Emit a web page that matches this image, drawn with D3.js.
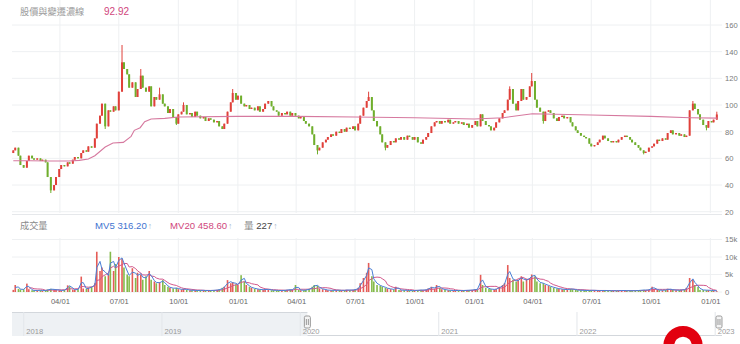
<!DOCTYPE html>
<html>
<head>
<meta charset="utf-8">
<script src="https://cdn.jsdelivr.net/npm/d3@7"></script>
<style>
  html, body { margin: 0; padding: 0; background: #fff; overflow: hidden; }
  svg { display: block; font-family: "Liberation Sans", "Noto Sans CJK TC", sans-serif; }
</style>
</head>
<body>
<svg id="chart" width="740" height="344"></svg>
<script>
// ---- data: one point per three trading sessions, from 2020-01-20 ----
const firstOpen = 64;
const closes = [
  66, 68, 62, 55, 53, 58, 62, 60, 59, 60,
  58, 59, 57, 46, 36, 40, 46, 52, 55, 54,
  57, 56, 59, 61, 60, 64, 66, 65, 69, 68,
  75, 86, 92, 101, 84, 96, 95, 99, 96, 110,
  132, 127, 123, 113, 117, 106, 112, 122, 113, 110,
  114, 99, 106, 104, 108, 101, 99, 94, 97, 91,
  86, 93, 95, 100, 93, 94, 91, 95, 92, 90,
  91, 88, 90, 89, 87, 88, 84, 82, 86, 95,
  102, 109, 104, 107, 101, 99, 100, 97, 98, 96,
  99, 95, 97, 101, 103, 99, 96, 95, 92, 94,
  93, 95, 92, 94, 92, 90, 91, 88, 86, 84,
  78, 70, 66, 68, 72, 74, 76, 78, 77, 80,
  79, 82, 80, 83, 82, 84, 81, 86, 92, 98,
  103, 106, 96, 88, 84, 78, 72, 68, 70, 73,
  72, 75, 74, 76, 74, 77, 76, 74, 76, 72,
  71, 74, 76, 79, 84, 87, 88, 86, 88, 87,
  89, 86, 87, 88, 86, 87, 85, 86, 83, 85,
  88, 84, 93, 88, 85, 84, 81, 83, 87, 90,
  94, 96, 104, 112, 101, 96, 103, 112, 104, 106,
  114, 118, 104, 98, 95, 88, 95, 96, 94, 90,
  88, 91, 92, 90, 91, 87, 84, 81, 79, 77,
  76, 75, 71, 69, 70, 72, 74, 77, 75, 73,
  72, 73, 72, 74, 76, 77, 76, 74, 72, 70,
  68, 66, 64, 65, 68, 69, 71, 74, 73, 75,
  74, 79, 81, 78, 79, 77, 78, 76, 77, 96,
  101, 97, 93, 89, 85, 83, 88, 87, 89, 92.92
];
// intraday extremes beyond the body, keyed by point index
const wickHigh = { 40: 145, 47: 127, 54: 113, 63: 102, 81: 112, 131: 110, 183: 114, 191: 124, 250: 103, 259: 95 };
const wickLow = { 14: 34, 34: 82, 60: 85, 112: 63, 137: 66, 195: 86, 232: 63, 255: 81 };

const volumes = [
  600, 2000, 900, 700, 800, 2400, 800, 500, 400, 450,
  500, 400, 450, 700, 900, 600, 700, 500, 400, 600,
  1900, 1600, 700, 600, 800, 4400, 1000, 900, 1200, 1500,
  2500, 11500, 6000, 7000, 4500, 5000, 11500, 6000, 8000, 10000,
  9500, 7000, 5000, 4500, 6800, 4000, 5500, 5000, 3500, 4500,
  6000, 3500, 3000, 2500, 2800, 3400, 2000, 1500, 1200, 1000,
  1200, 800, 700, 900, 600, 500, 500, 450, 400, 500,
  450, 400, 400, 450, 500, 600, 700, 1200, 1500, 3400,
  2500, 2800, 2200, 2000, 4800, 3000, 2000, 1500, 1200, 900,
  800, 700, 600, 800, 700, 500, 500, 450, 400, 450,
  500, 600, 700, 600, 2000, 600, 500, 500, 600, 900,
  1500, 2000, 1800, 1000, 800, 600, 500, 500, 450, 500,
  500, 450, 500, 600, 500, 600, 700, 1200, 2500, 4000,
  5500, 8300, 4500, 3000, 2000, 1800, 1500, 1200, 1000, 800,
  700, 1500, 600, 500, 500, 450, 400, 400, 450, 500,
  600, 500, 700, 1000, 1500, 900, 2000, 1200, 800, 600,
  500, 450, 400, 450, 400, 400, 450, 500, 500, 600,
  800, 700, 4900, 2000, 1200, 900, 800, 700, 900, 1500,
  2000, 2500, 7700, 4000, 3500, 3000, 3500, 4500, 3000, 3800,
  4000, 5000, 4500, 3000, 2500, 2500, 2000, 1800, 1500, 1200,
  1000, 900, 800, 700, 700, 900, 800, 600, 500, 500,
  450, 400, 450, 500, 450, 400, 400, 450, 400, 350,
  400, 350, 350, 400, 450, 400, 350, 400, 350, 400,
  450, 500, 600, 500, 700, 1500, 900, 600, 500, 500,
  600, 900, 700, 600, 500, 500, 600, 700, 1200, 4000,
  3500, 2000, 1500, 600, 560, 500, 510, 407.8, 405.4, 227
];

// reference line drawn over the candles
const baseDates = ["2020-01-20","2020-02-15","2020-03-15","2020-04-15","2020-05-01","2020-05-15","2020-05-25",
  "2020-06-10","2020-06-22","2020-07-08","2020-07-20","2020-07-25","2020-08-03","2020-08-10","2020-08-20",
  "2020-09-10","2020-10-01","2021-01-01","2021-04-01","2021-07-01","2021-10-01","2022-01-01","2022-02-15",
  "2022-04-01","2022-07-01","2022-10-01","2022-12-01","2023-01-12"];
const baseValues = [58.2, 58.2, 58, 58, 58.5, 59.5, 62,
  68.5, 71.5, 72, 76.5, 81, 83, 87.5, 89.5,
  90, 91, 91.5, 91.5, 91, 90.5, 89.5, 90.5,
  93.5, 92.5, 91.5, 90.5, 90.2];

const priceGridTicks = [20, 40, 60, 80, 100, 120, 140, 160, 180];
const priceLabelTicks = [20, 40, 60, 80, 100, 120, 140, 160];
const volumeTicks = [0, 5000, 10000, 15000];
const titleText = "股價與變遷濃線";
const volumeTitle = "成交量";

// ---- colours ----
const UP = "#e0403a", DOWN = "#6fae2c";
const GRID = "#eef0f2";

// ---- helpers ----
const parse = d3.timeParse("%Y-%m-%d");
function sessionDates(n) {
  const out = [];
  const d = new Date(2020, 0, 20);
  let count = 0;
  while (out.length < n) {
    const wd = d.getDay();
    if (wd !== 0 && wd !== 6) {
      if (count % 3 === 0) out.push(new Date(d));
      count++;
    }
    d.setDate(d.getDate() + 1);
  }
  return out;
}
const dates = sessionDates(closes.length);
const candles = closes.map((c, i) => {
  const o = i === 0 ? firstOpen : closes[i - 1];
  return {
    date: dates[i], o, c,
    h: wickHigh[i] !== undefined ? wickHigh[i] : Math.max(o, c),
    l: wickLow[i] !== undefined ? wickLow[i] : Math.min(o, c),
    up: c >= o, v: volumes[i]
  };
});
// each point spans three sessions: 5-session average ~ 2 points, 20-session ~ 7 points
function movingAvg(arr, n) {
  return arr.map((_, i) => i < n - 1 ? null : d3.mean(arr.slice(i - n + 1, i + 1)));
}
const mv5 = movingAvg(volumes, 2);
const mv20 = movingAvg(volumes, 7);

// ---- scales ----
const L = 12, R = 722;
const x = d3.scaleTime().domain([new Date(2020, 0, 18), new Date(2023, 0, 19)]).range([L, R]);
const yP = d3.scaleLinear().domain([20, 160]).range([211.7, 25]);
const yV = d3.scaleLinear().domain([0, 15000]).range([292, 239.5]);
const xN = d3.scaleTime().domain([new Date(2017, 11, 1), new Date(2023, 0, 19)]).range([L, R]);

const svg = d3.select("#chart");
const quarterTicks = x.ticks(d3.timeMonth.every(3));

// ---- grid ----
const grid = svg.append("g");
grid.selectAll(".hp").data(priceGridTicks).join("line")
  .attr("x1", L).attr("x2", R).attr("y1", d => yP(d)).attr("y2", d => yP(d))
  .attr("stroke", GRID);
grid.selectAll(".hv").data(volumeTicks).join("line")
  .attr("x1", L).attr("x2", R).attr("y1", d => yV(d)).attr("y2", d => yV(d))
  .attr("stroke", GRID);
grid.selectAll(".vp").data(quarterTicks).join("line")
  .attr("x1", d => x(d)).attr("x2", d => x(d)).attr("y1", 0).attr("y2", 213)
  .attr("stroke", GRID);
grid.selectAll(".vv").data(quarterTicks).join("line")
  .attr("x1", d => x(d)).attr("x2", d => x(d)).attr("y1", 238).attr("y2", 292)
  .attr("stroke", GRID);
svg.append("line").attr("x1", L).attr("x2", R).attr("y1", 214.5).attr("y2", 214.5).attr("stroke", "#e6e8eb");

// ---- axes ----
const axP = svg.append("g").attr("transform", `translate(${R},0)`)
  .call(d3.axisRight(yP).tickValues(priceLabelTicks).tickSize(0).tickPadding(3));
const axV = svg.append("g").attr("transform", `translate(${R},0)`)
  .call(d3.axisRight(yV).tickValues(volumeTicks).tickSize(0).tickPadding(3)
    .tickFormat(d => d === 0 ? "0" : (d / 1000) + "k"));
const axX = svg.append("g").attr("transform", "translate(0,296)")
  .call(d3.axisBottom(x).tickValues(quarterTicks).tickSize(0).tickPadding(3)
    .tickFormat(d3.timeFormat("%m/%d")));
[axP, axV, axX].forEach(g => {
  g.select(".domain").remove();
  g.selectAll("text").attr("fill", "#7a7a7a").style("font-size", "7.6px")
    .style("font-family", "'Liberation Sans', sans-serif");
});
axX.selectAll("text").attr("fill", "#666");

// ---- candles ----
const cw = 2;
const cg = svg.append("g");
cg.selectAll("line").data(candles).join("line")
  .attr("x1", d => x(d.date)).attr("x2", d => x(d.date))
  .attr("y1", d => yP(d.h)).attr("y2", d => yP(d.l))
  .attr("stroke", d => d.up ? UP : DOWN).attr("stroke-width", 1);
cg.selectAll("rect").data(candles).join("rect")
  .attr("x", d => x(d.date) - cw / 2).attr("width", cw)
  .attr("y", d => yP(Math.max(d.o, d.c)))
  .attr("height", d => Math.max(1, Math.abs(yP(d.o) - yP(d.c))))
  .attr("fill", d => d.up ? UP : DOWN);

// reference line
const basePts = baseDates.map((s, i) => ({ date: parse(s), v: baseValues[i] }));
svg.append("path").datum(basePts)
  .attr("d", d3.line().x(d => x(d.date)).y(d => yP(d.v)))
  .attr("fill", "none").attr("stroke", "#d6799f").attr("stroke-width", 1.1);

// ---- volume ----
const vg = svg.append("g");
vg.selectAll("rect").data(candles).join("rect")
  .attr("x", d => x(d.date) - 0.8).attr("width", 1.6)
  .attr("y", d => yV(d.v)).attr("height", d => yV(0) - yV(d.v))
  .attr("fill", d => d.up ? UP : DOWN).attr("opacity", 0.85);
const mvLine = arr => d3.line().defined((d, i) => arr[i] !== null)
  .x((d, i) => x(dates[i])).y((d, i) => yV(arr[i]));
svg.append("path").datum(volumes).attr("d", mvLine(mv20))
  .attr("fill", "none").attr("stroke", "#d2588c").attr("stroke-width", 1);
svg.append("path").datum(volumes).attr("d", mvLine(mv5))
  .attr("fill", "none").attr("stroke", "#4a7fd6").attr("stroke-width", 1);

// ---- legends ----
const fs = "9.2px";
svg.append("text").attr("x", 20).attr("y", 15).text(titleText)
  .attr("fill", "#9a9a9a").style("font-size", fs).style("font-family", "'Noto Sans CJK TC', sans-serif");
svg.append("text").attr("x", 104).attr("y", 15.3).text(closes[closes.length - 1].toFixed(2))
  .attr("fill", "#d0467c").style("font-size", "10px");

svg.append("text").attr("x", 20).attr("y", 229).text(volumeTitle)
  .attr("fill", "#8a8a8a").style("font-size", fs).style("font-family", "'Noto Sans CJK TC', sans-serif");
function legendItem(xPos, label, value, color) {
  const t = svg.append("text").attr("x", xPos).attr("y", 229.3).style("font-size", "9.6px");
  t.append("tspan").text(label + " " + value).attr("fill", color);
  t.append("tspan").text("↑").attr("fill", "#a8b8cc").attr("dx", 1).style("font-size", "8.5px");
}
legendItem(95, "MV5", mv5[mv5.length - 1].toFixed(2), "#3f74d0");
legendItem(170, "MV20", mv20[mv20.length - 1].toFixed(2), "#d0467c");
{
  const t = svg.append("text").attr("x", 244).attr("y", 229.3).style("font-size", "9.6px");
  t.append("tspan").text("量").attr("fill", "#8a8a8a").style("font-family", "'Noto Sans CJK TC', sans-serif");
  t.append("tspan").text(" " + volumes[volumes.length - 1]).attr("fill", "#444");
  t.append("tspan").text("↑").attr("fill", "#a8b8cc").attr("dx", 1).style("font-size", "8.5px");
}

// ---- navigator ----
const nTop = 312, nBot = 336;
const selStart = xN(dates[0]), selEnd = xN(dates[dates.length - 1]);
svg.append("rect").attr("x", L).attr("y", nTop).attr("width", selStart - L).attr("height", nBot - nTop)
  .attr("fill", "#eef1f4");
svg.append("line").attr("x1", L).attr("x2", selStart).attr("y1", nTop + 0.5).attr("y2", nTop + 0.5)
  .attr("stroke", "#d3d7dc");
svg.append("line").attr("x1", selStart).attr("x2", R).attr("y1", nBot - 0.5).attr("y2", nBot - 0.5)
  .attr("stroke", "#d3d7dc");
const years = xN.ticks(d3.timeYear.every(1));
svg.selectAll(".ny").data(years).join("line")
  .attr("x1", d => xN(d)).attr("x2", d => xN(d)).attr("y1", nTop).attr("y2", nBot)
  .attr("stroke", "#e3e6ea");
svg.selectAll(".nyt").data(years).join("text")
  .attr("x", d => xN(d) + 2.5).attr("y", 333.5).text(d3.timeFormat("%Y"))
  .attr("fill", "#9a9a9a").style("font-size", "7.6px");
[selStart, selEnd].forEach(hx => {
  const h = svg.append("g").attr("transform", `translate(${hx},322)`);
  h.append("rect").attr("x", -3).attr("y", -6).attr("width", 6).attr("height", 12).attr("rx", 1.5)
    .attr("fill", "#f4f4f4").attr("stroke", "#9a9a9a");
  h.append("line").attr("x1", -1).attr("x2", -1).attr("y1", -3).attr("y2", 3).attr("stroke", "#9a9a9a");
  h.append("line").attr("x1", 1).attr("x2", 1).attr("y1", -3).attr("y2", 3).attr("stroke", "#9a9a9a");
});

// floating round button at the bottom edge
svg.append("circle").attr("cx", 683).attr("cy", 345.5).attr("r", 14.2)
  .attr("fill", "none").attr("stroke", "#e2000f").attr("stroke-width", 10.8);
</script>
</body>
</html>
